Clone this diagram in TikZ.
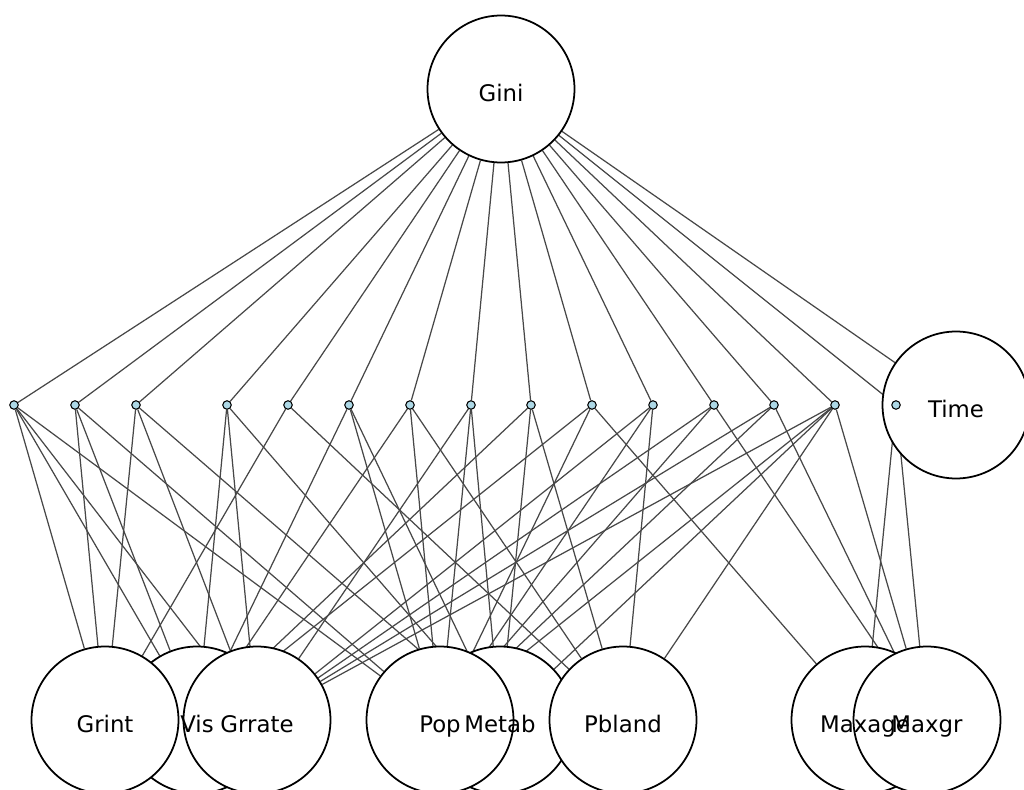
\documentclass[tikz,border=0pt]{standalone}
\usepackage{fontspec}
\setmainfont{DejaVu Sans}
\usepackage{xcolor}
\definecolor{dotblue}{HTML}{ADD8E6}
\pgfdeclarelayer{edges}
\pgfdeclarelayer{labels}
\pgfsetlayers{edges,main,labels}

\begin{document}
\begin{tikzpicture}[
    x=0.02cm, y=-0.02cm,
    var/.style={circle, draw, line width=1pt, fill=white, minimum size=2.94cm, inner sep=0pt},
    factor/.style={circle, draw, line width=0.6pt, fill=dotblue, minimum size=0.17cm, inner sep=0pt},
    txt/.style={font=\fontsize{13}{15}\selectfont, inner sep=0pt, anchor=base, yshift=-0.25cm},
    link/.style={draw=black!72, line width=0.7pt}
]
    \useasboundingbox (0,0) rectangle (1024,790);

    % Parameters (bottom row, in overlap order)
    \node[var] (vis) at (197,720) {};
    \node[var] (grint) at (105,720) {};
    \node[var] (grrate) at (257,720) {};
    \node[var] (metab) at (500,720) {};
    \node[var] (pop) at (440,720) {};
    \node[var] (pbland) at (623,720) {};
    \node[var] (maxage) at (865,720) {};
    \node[var] (maxgr) at (927,720) {};

    % Outcome and time
    \node[var] (gini) at (501,89) {};
    \node[var] (time) at (956,405) {};

    % Interaction dots
    \foreach \n/\x in {1/14, 2/75, 3/136, 4/227, 5/288, 6/349, 7/410, 8/471,
                       9/531, 10/592, 11/653, 12/714, 13/774, 14/835, 15/896} {
        \node[factor] (f\n) at (\x,405) {};
    }

    % Connections
    \begin{pgfonlayer}{edges}
        \foreach \n in {1,...,15} {
            \draw[link] (gini) -- (f\n);
        }
        \draw[link] (gini) -- (time);

        \foreach \f/\v in {1/grint, 1/vis, 1/grrate, 1/pop,
                           2/grint, 2/vis, 2/pop,
                           3/grint, 3/grrate, 3/metab,
                           4/vis, 4/grrate, 4/metab,
                           5/grint, 5/pbland,
                           6/vis, 6/pop, 6/metab,
                           7/vis, 7/pop, 7/pbland,
                           8/grrate, 8/pop, 8/metab,
                           9/vis, 9/metab, 9/pbland,
                           10/vis, 10/pop, 10/maxage,
                           11/grrate, 11/pop, 11/pbland,
                           12/grrate, 12/pop, 12/maxgr,
                           13/grrate, 13/pop, 13/maxgr,
                           14/grrate, 14/pop, 14/metab, 14/pbland, 14/maxgr,
                           15/maxage, 15/maxgr} {
            \draw[link] (f\f) -- (\v);
        }
    \end{pgfonlayer}

    % Labels
    \begin{pgfonlayer}{labels}
        \node[txt] (gini-t) at (gini) {Gini};
        \node[txt] (time-t) at (time) {Time};
        \node[txt] (grint-t) at (grint) {Grint};
        \node[txt] (vis-t) at (vis) {Vis};
        \node[txt] (grrate-t) at (grrate) {Grrate};
        \node[txt] (pop-t) at (pop) {Pop};
        \node[txt] (metab-t) at (metab) {Metab};
        \node[txt] (pbland-t) at (pbland) {Pbland};
        \node[txt] (maxage-t) at (maxage) {Maxage};
        \node[txt] (maxgr-t) at (maxgr) {Maxgr};
    \end{pgfonlayer}

\end{tikzpicture}
\end{document}
